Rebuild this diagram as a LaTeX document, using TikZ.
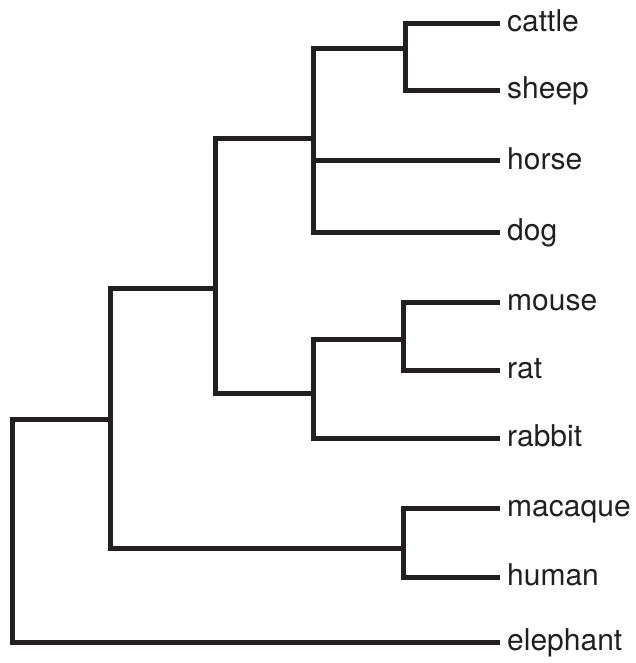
\documentclass[tikz,border=0pt]{standalone}
\usepackage{fontspec}
\setmainfont{TeX Gyre Heros}
\definecolor{treeblack}{HTML}{231F20}

\begin{document}
\begin{tikzpicture}[x=1pt, y=-1pt,
        branch/.style = {draw=treeblack, line width=5pt},
        leaf/.style = {anchor=base west, inner sep=0pt, xshift=7pt, yshift=-8pt, text=treeblack,
                       font=\fontsize{30}{36}\selectfont}]
    \useasboundingbox (0,0) rectangle (635,663);
    % tips
    \coordinate (t1)  at (500,24);
    \coordinate (t2)  at (500,91);
    \coordinate (t3)  at (500,161);
    \coordinate (t4)  at (500,232);
    \coordinate (t5)  at (500,302);
    \coordinate (t6)  at (500,370);
    \coordinate (t7)  at (500,438);
    \coordinate (t8)  at (500,508);
    \coordinate (t9)  at (500,577);
    \coordinate (t10) at (500,642);
    \node [leaf] (cattle)   at (t1)  {cattle};
    \node [leaf] (sheep)    at (t2)  {sheep};
    \node [leaf] (horse)    at (t3)  {horse};
    \node [leaf] (dog)      at (t4)  {dog};
    \node [leaf] (mouse)    at (t5)  {mouse};
    \node [leaf] (rat)      at (t6)  {rat};
    \node [leaf] (rabbit)   at (t7)  {rabbit};
    \node [leaf] (macaque)  at (t8)  {macaque};
    \node [leaf] (human)    at (t9)  {human};
    \node [leaf] (elephant) at (t10) {elephant};
    % splits
    \coordinate (cs)   at (405,49);
    \coordinate (csh)  at (313,139);
    \coordinate (mr)   at (403,339);
    \coordinate (mrr)  at (313,393);
    \coordinate (mid)  at (215,288);
    \coordinate (mh)   at (403,548);
    \coordinate (top)  at (110,419);
    \coordinate (root) at (12,419);

    \draw [branch] (t1) -| (cs) |- (t2);
    \draw [branch] (cs) -| (csh) |- (t4);
    \draw [branch] (csh) |- (t3);
    \draw [branch] (t5) -| (mr) |- (t6);
    \draw [branch] (mr) -| (mrr) |- (t7);
    \draw [branch] (csh) -| (mid) |- (mrr);
    \draw [branch] (t8) -| (mh) |- (t9);
    \draw [branch] (mid) -| (top) |- (mh);
    \draw [branch] (top) -- (root) |- (t10);
\end{tikzpicture}
\end{document}
